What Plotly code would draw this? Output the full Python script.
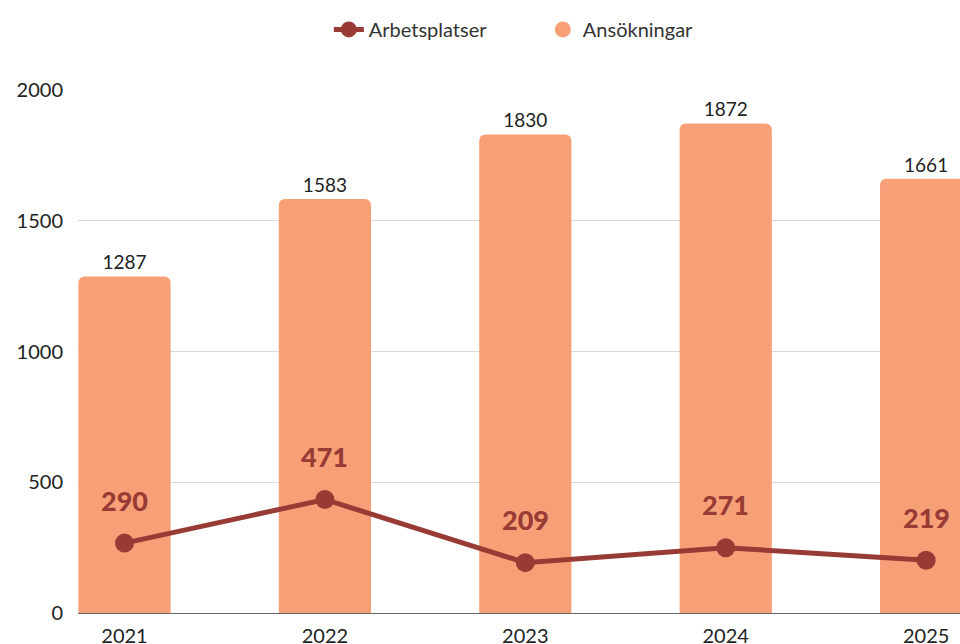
import plotly.graph_objects as go

years = ["2021", "2022", "2023", "2024", "2025"]
ansokningar = [1287, 1583, 1830, 1872, 1661]
arbetsplatser = [290, 471, 209, 271, 219]
y_ticks = [0, 500, 1000, 1500, 2000]

BAR_COLOR = "#F7A077"
LINE_COLOR = "#983B35"
FONT = "Lato"

fig = go.Figure()

fig.add_trace(go.Bar(
    x=years, y=ansokningar, name="Ansökningar",
    marker=dict(color=BAR_COLOR, line=dict(width=0)),
    text=[str(v) for v in ansokningar], textposition="outside",
    textfont=dict(family=FONT, size=19, color="#222222"),
    cliponaxis=False, showlegend=False, legendgroup="a",
))

fig.add_trace(go.Scatter(
    x=years, y=arbetsplatser, name="Arbetsplatser", yaxis="y2",
    mode="lines+markers",
    line=dict(color=LINE_COLOR, width=5),
    marker=dict(color=LINE_COLOR, size=19),
    legendrank=1,
))

# legend entry for bars (circle symbol)
fig.add_trace(go.Scatter(
    x=[None], y=[None], name="Ansökningar", mode="markers",
    marker=dict(color=BAR_COLOR, size=30, symbol="circle"),
    legendgroup="a", legendrank=2,
))

for i, v in enumerate(arbetsplatser):
    fig.add_annotation(
        x=i, y=v, xref="x", yref="y2", text=str(v), showarrow=False,
        yshift=43, font=dict(family=FONT, size=27, color=LINE_COLOR, weight=900),
    )

fig.update_layout(
    width=960, height=644,
    margin=dict(l=78, r=0, t=90, b=31, autoexpand=False),
    plot_bgcolor="white", paper_bgcolor="white",
    font=dict(family=FONT, size=20, color="#222222"),
    bargap=0.54,
    barcornerradius=6,
    showlegend=True,
    legend=dict(orientation="h", x=0.527, xanchor="center", y=0.924, yanchor="bottom",
                yref="container", font=dict(size=20, color="#333333"),
                itemsizing="trace", traceorder="normal", entrywidth=169),
    xaxis=dict(
        type="category", range=[-0.232, 4.169], automargin=False,
        showgrid=False, showline=True, linecolor="#666666", linewidth=1,
        ticks="", ticklabelstandoff=5,
        tickfont=dict(family=FONT, size=20, color="#222222"),
    ),
    yaxis=dict(
        range=[0, 2000], tickvals=y_ticks, automargin=False,
        showgrid=True, gridcolor="#D9D9D9", gridwidth=1,
        zeroline=False, showline=False, ticks="", ticklabelstandoff=14,
        tickfont=dict(family=FONT, size=20, color="#222222"),
    ),
    yaxis2=dict(
        range=[0, 2170], overlaying="y", side="right", automargin=False,
        showgrid=False, zeroline=False, showline=False, showticklabels=False, ticks="",
    ),
)

fig.write_html(
    "out.html",
    config={"displayModeBar": False},
    post_script="document.body.style.margin='0';"
                "document.body.style.overflow='hidden';"
                "document.documentElement.style.overflow='hidden';",
)
